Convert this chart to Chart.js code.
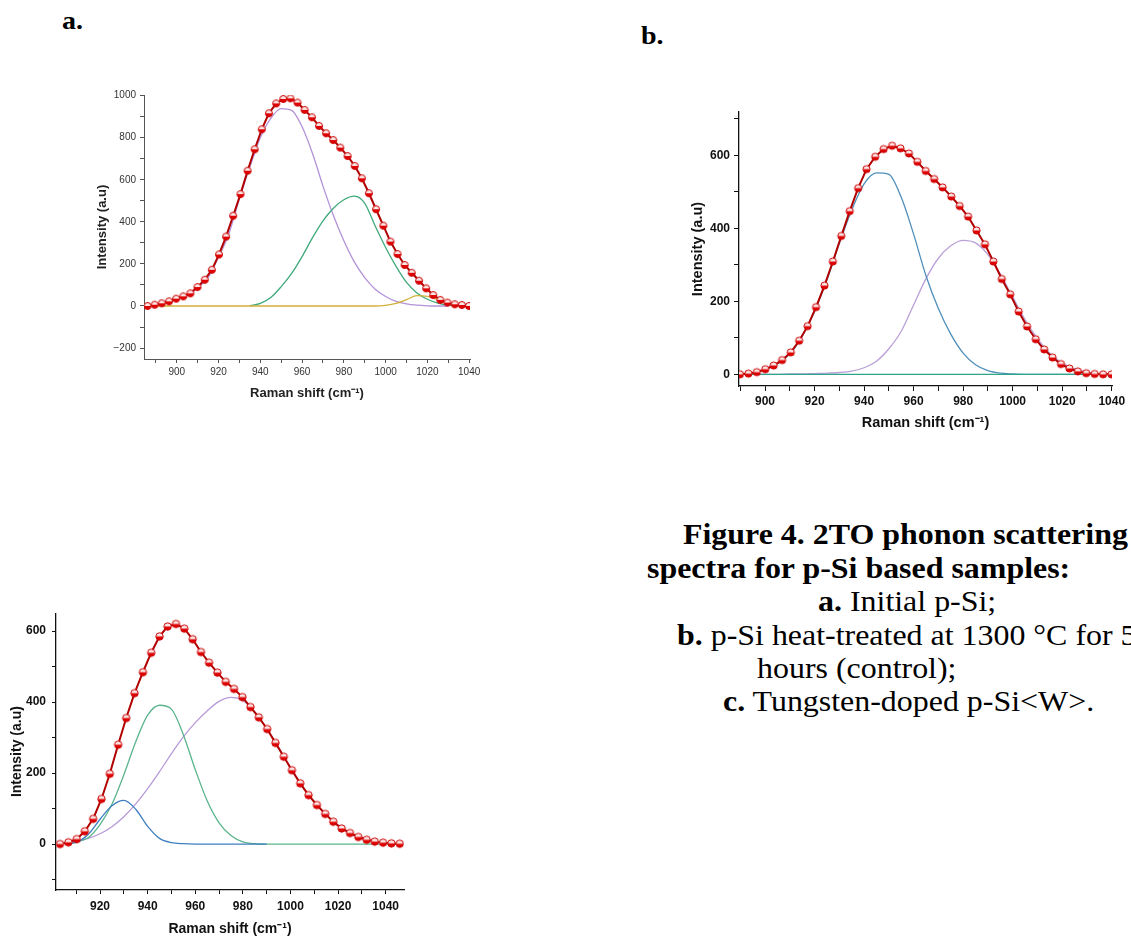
<!DOCTYPE html>
<html>
<head>
<meta charset="utf-8">
<script src="https://cdn.jsdelivr.net/npm/chart.js@4.4.1/dist/chart.umd.min.js"></script>
<style>
html,body{margin:0;padding:0;background:#fff;}
body{width:1131px;height:937px;overflow:hidden;position:relative;}
.box{position:absolute;}
.txt{position:absolute;font-family:"Liberation Serif","Times New Roman",serif;font-size:28.5px;line-height:1;white-space:nowrap;transform:scaleX(1.12);transform-origin:0 0;color:#000;}
.bold{font-weight:bold;}
</style>
</head>
<body>
<div class="txt bold" style="left:62px;top:8px;font-size:25px;">a.</div>
<div class="txt bold" style="left:641px;top:23px;font-size:25px;">b.</div>

<div class="box" style="left:90px;top:85px;width:400px;height:320px;"><canvas id="chartA"></canvas></div>
<div class="box" style="left:680px;top:100px;width:451px;height:340px;"><canvas id="chartB"></canvas></div>
<div class="box" style="left:0px;top:600px;width:420px;height:345px;"><canvas id="chartC"></canvas></div>

<div class="txt bold" style="left:683px;top:521px;">Figure 4. 2TO phonon scattering</div>
<div class="txt bold" style="left:647px;top:555px;">spectra for p-Si based samples:</div>
<div class="txt" style="left:818px;top:588px;"><b>a.</b> Initial p-Si;</div>
<div class="txt" style="left:677px;top:622px;"><b>b.</b> p-Si heat-treated at 1300 °C for 5</div>
<div class="txt" style="left:757px;top:655px;">hours (control);</div>
<div class="txt" style="left:723px;top:688px;"><b>c.</b> Tungsten-doped p-Si&lt;W&gt;.</div>

<script>
// ---------- Panel a: Initial p-Si ----------
const aShift = [886.0,889.4,892.8,896.3,899.7,903.1,906.5,909.9,913.4,916.8,920.2,923.6,927.0,930.5,933.9,937.3,940.7,944.1,947.6,951.0,954.4,957.8,961.2,964.7,968.1,971.5,974.9,978.3,981.8,985.2,988.6,992.0,995.4,998.9,1002.3,1005.7,1009.1,1012.5,1016.0,1019.4,1022.8,1026.2,1029.6,1033.1,1036.5,1039.9];
const aIntensity = [0,6,13,22,35,46,60,90,125,172,245,330,429,532,643,745,840,916,963,984,987,967,932,897,856,821,789,753,713,666,607,536,460,382,306,247,195,158,120,84,52,29,16,8,5,0];
const aFitShift = [885,890,895,900,905,910,915,920,925,930,935,940,945,950,955,960,965,970,975,980,985,990,995,1000,1005,1010,1015,1020,1025,1030,1035,1040];
const aPeak1 = [0,7,17,35,50,85,135,232,345,510,660,800,892,938,930,852,725,570,430,310,210,135,80,45,22,10,4,1,0,0,null,null];
const aPeak2 = [null,null,null,null,null,null,null,null,null,null,1,12,40,92,155,235,325,405,465,505,522,488,380,278,188,112,62,32,14,4,1,null];
const aPeak3 = [0,0,0,0,0,0,0,0,0,0,0,0,0,0,0,0,0,0,0,0,0,0,0,3,12,30,49,46,30,10,2,0];
const aXTicks = [890,900,910,920,930,940,950,960,970,980,990,1000,1010,1020,1030,1040];
const aXLabels = [900,920,940,960,980,1000,1020,1040];
const aYTicks = [-200,-100,0,100,200,300,400,500,600,700,800,900,1000];
const aYLabels = [-200,0,200,400,600,800,1000];

// ---------- Panel b: heat-treated p-Si (control) ----------
const bShift = [889.9,893.3,896.7,900.1,903.5,906.9,910.4,913.8,917.2,920.6,924.0,927.4,930.8,934.2,937.6,941.0,944.5,947.9,951.3,954.7,958.1,961.5,964.9,968.3,971.7,975.2,978.6,982.0,985.4,988.8,992.2,995.6,999.0,1002.4,1005.8,1009.3,1012.7,1016.1,1019.5,1022.9,1026.3,1029.7,1033.1,1036.5,1039.9];
const bIntensity = [0,2,6,14,24,39,60,92,132,184,243,309,379,447,510,562,596,617,626,619,605,582,557,535,512,487,461,432,394,356,309,261,219,172,131,96,68,46,28,16,8,3,1,0,0];
const bFitShift = [890,895,900,905,910,915,920,925,930,935,940,945,950,955,960,965,970,975,980,985,990,995,1000,1005,1010,1015,1020,1025,1030,1035,1040];
const bPeak1 = [0,4,13,29,56,104,172,258,358,450,522,552,548,485,384,270,180,110,58,26,10,3,1,0,0,0,0,0,0,0,0];
const bPeak2 = [0,0,0,0,1,1,2,3,5,9,18,36,70,118,190,262,318,352,367,360,328,275,212,150,98,58,31,15,6,2,0];
const bBaseShift = [890,1040];
const bBase = [0,0];
const bXTicks = [890,900,910,920,930,940,950,960,970,980,990,1000,1010,1020,1030,1040];
const bXLabels = [900,920,940,960,980,1000,1020,1040];
const bYTicks = [0,100,200,300,400,500,600,700];
const bYLabels = [0,200,400,600];

// ---------- Panel c: Tungsten-doped p-Si<W> ----------
const cShift = [903.2,906.7,910.2,913.6,917.1,920.6,924.1,927.6,931.0,934.5,938.0,941.5,945.0,948.4,951.9,955.4,958.9,962.4,965.8,969.3,972.8,976.3,979.8,983.2,986.7,990.2,993.7,997.2,1000.6,1004.1,1007.6,1011.1,1014.6,1018.0,1021.5,1025.0,1028.5,1032.0,1035.4,1038.9,1042.4,1045.9];
const cIntensity = [0,5,14,36,71,127,198,280,355,425,484,539,585,613,620,607,577,541,511,483,457,437,414,386,357,324,285,246,208,171,138,110,85,63,44,31,20,12,7,4,2,1];
const cFitShift = [905,910,915,920,925,930,935,940,945,950,955,960,965,970,975,980,985,990,995,1000,1005,1010,1015,1020,1025,1030,1035,1040,1045];
const cPeak1 = [1,5,27,70,108,123,98,50,16,4,1,0,0,0,0,0,0,0,null,null,null,null,null,null,null,null,null,null,null];
const cPeak2 = [1,6,18,55,112,195,288,363,391,380,308,210,122,60,24,6,1,0,0,0,0,0,0,0,0,0,0,0,0];
const cPeak3 = [3,8,16,29,49,77,113,156,204,255,302,342,375,402,413,404,373,326,272,216,163,119,83,54,32,18,9,4,1];
const cXTicks = [910,920,930,940,950,960,970,980,990,1000,1010,1020,1030,1040];
const cXLabels = [920,940,960,980,1000,1020,1040];
const cYTicks = [-100,0,100,200,300,400,500,600];
const cYLabels = [0,200,400,600];

const FAM = '"Liberation Sans", Arial, sans-serif';

function pts(xs, ys) {
  const out = [];
  xs.forEach((x, i) => { if (ys[i] !== null && ys[i] !== undefined) out.push({x: x, y: ys[i]}); });
  return out;
}

function halfMarker(r) {
  const s = Math.ceil(2 * r + 3);
  const c = document.createElement('canvas');
  c.width = s; c.height = s;
  const g = c.getContext('2d');
  const m = s / 2;
  g.beginPath(); g.arc(m, m, r, 0, 2 * Math.PI); g.fillStyle = '#fbe6e6'; g.fill();
  g.beginPath(); g.arc(m, m, r, 0, Math.PI); g.closePath(); g.fillStyle = '#e00000'; g.fill();
  g.beginPath(); g.arc(m, m, r, 0, 2 * Math.PI); g.lineWidth = 1; g.strokeStyle = '#cc0000'; g.stroke();
  return c;
}

function dataSet(xs, ys, marker) {
  return {
    data: pts(xs, ys), borderColor: '#b00000', borderWidth: 2, tension: 0,
    pointStyle: marker, pointRadius: 4, pointHoverRadius: 4
  };
}
function fitSet(xs, ys, color) {
  return {
    data: pts(xs, ys), borderColor: color, borderWidth: 1.3, pointRadius: 0,
    cubicInterpolationMode: 'monotone', spanGaps: false
  };
}

function build(id, o) {
  const neg = v => (v < 0 ? '\u2212' + Math.abs(v) : String(v));
  return new Chart(document.getElementById(id), {
    type: 'line',
    data: { datasets: o.datasets },
    options: {
      responsive: true, maintainAspectRatio: false, animation: false, events: [],
      plugins: { legend: { display: false }, tooltip: { enabled: false } },
      layout: { padding: { left: 0, top: o.padTop, right: o.padRight, bottom: 0 } },
      scales: {
        x: {
          type: 'linear', min: o.xMin, max: o.xMax,
          afterBuildTicks: s => { s.ticks = o.xTicks.map(v => ({ value: v })); },
          afterFit: s => { s.height = o.xH; },
          ticks: { autoSkip: false, maxRotation: 0, padding: o.xTickPad, font: o.tickFont, color: o.tickColor,
                   callback: v => (o.xLabels.includes(v) ? neg(v) : '') },
          grid: { drawOnChartArea: false, drawTicks: true, tickLength: o.tickLen, color: o.axisColor, tickColor: o.axisColor, tickWidth: 1 },
          border: { display: true, color: o.axisColor, width: o.axisWidth },
          title: { display: true, text: 'Raman shift (cm\u207B\u00B9)', font: o.titleFont, color: o.titleColor,
                   padding: { top: 0, bottom: o.xTitlePad } }
        },
        y: {
          type: 'linear', min: o.yMin, max: o.yMax,
          afterBuildTicks: s => { s.ticks = o.yTicks.map(v => ({ value: v })); },
          afterFit: s => { s.width = o.yW; },
          ticks: { autoSkip: false, padding: o.yTickPad, font: o.tickFont, color: o.tickColor,
                   callback: v => (o.yLabels.includes(v) ? neg(v) : '') },
          grid: { drawOnChartArea: false, drawTicks: true, tickLength: o.tickLen, color: o.axisColor, tickColor: o.axisColor, tickWidth: 1 },
          border: { display: true, color: o.axisColor, width: o.axisWidth },
          title: { display: true, text: 'Intensity (a.u)', font: o.titleFont, color: o.titleColor,
                   padding: { top: o.yTitlePad, bottom: 0 } }
        }
      }
    }
  });
}

// Panel a
build('chartA', {
  datasets: [
    dataSet(aShift, aIntensity, halfMarker(3.5)),
    fitSet(aFitShift, aPeak3, '#d2b03a'),
    fitSet(aFitShift, aPeak2, '#3fa97a'),
    fitSet(aFitShift, aPeak1, '#b392d8')
  ],
  xMin: 884.3, xMax: 1040.4, yMin: -252, yMax: 1003,
  xTicks: aXTicks, xLabels: aXLabels, yTicks: aYTicks, yLabels: aYLabels,
  padTop: 10, padRight: 20, xH: 46, yW: 54,
  tickLen: 4, xTickPad: 3, yTickPad: 4,
  tickFont: { family: FAM, size: 10, weight: 'normal' }, tickColor: '#333',
  titleFont: { family: FAM, size: 13, weight: 'bold' }, titleColor: '#222',
  axisColor: '#555', axisWidth: 1, xTitlePad: 4, yTitlePad: 5
});

// Panel b
build('chartB', {
  datasets: [
    dataSet(bShift, bIntensity, halfMarker(3.6)),
    fitSet(bBaseShift, bBase, '#2fa48a'),
    fitSet(bFitShift, bPeak1, '#4f8fba'),
    fitSet(bFitShift, bPeak2, '#b9a0d8')
  ],
  xMin: 889.5, xMax: 1040.1, yMin: -32, yMax: 718.6,
  xTicks: bXTicks, xLabels: bXLabels, yTicks: bYTicks, yLabels: bYLabels,
  padTop: 12, padRight: 19, xH: 54, yW: 59,
  tickLen: 5, xTickPad: 3, yTickPad: 4,
  tickFont: { family: FAM, size: 12, weight: 'bold' }, tickColor: '#111',
  titleFont: { family: FAM, size: 14.5, weight: 'bold' }, titleColor: '#111',
  axisColor: '#111', axisWidth: 1.3, xTitlePad: 8, yTitlePad: 9
});

// Panel c
build('chartC', {
  datasets: [
    dataSet(cShift, cIntensity, halfMarker(3.7)),
    fitSet(cFitShift, cPeak1, '#3f7fc0'),
    fitSet(cFitShift, cPeak2, '#5ab48c'),
    fitSet(cFitShift, cPeak3, '#b89ad8')
  ],
  xMin: 901.5, xMax: 1047.7, yMin: -129.4, yMax: 650.3,
  xTicks: cXTicks, xLabels: cXLabels, yTicks: cYTicks, yLabels: cYLabels,
  padTop: 11, padRight: 16, xH: 55, yW: 56,
  tickLen: 4, xTickPad: 5, yTickPad: 6,
  tickFont: { family: FAM, size: 12, weight: 'bold' }, tickColor: '#111',
  titleFont: { family: FAM, size: 14, weight: 'bold' }, titleColor: '#111',
  axisColor: '#111', axisWidth: 1.3, xTitlePad: 7, yTitlePad: 8.6
});
</script>
</body>
</html>
